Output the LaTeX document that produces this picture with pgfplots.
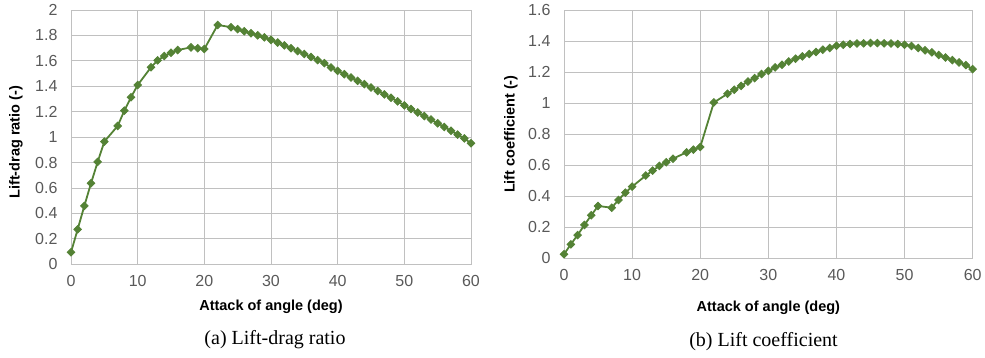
\documentclass[border=0pt]{standalone}
\usepackage{fontspec}
\setmainfont{Liberation Serif}
\setsansfont{Liberation Sans}
\usepackage{pgfplots}
\pgfplotsset{compat=1.18}
\definecolor{gridc}{HTML}{C0C0C0}
\definecolor{tickc}{HTML}{595959}
\definecolor{linec}{HTML}{548235}

\pgfplotstableread{
x y
0 0.094
1 0.275
2 0.459
3 0.637
4 0.805
5 0.965
7 1.088
8 1.208
9 1.313
10 1.410
12 1.549
13 1.604
14 1.638
15 1.664
16 1.685
18 1.706
19 1.699
20 1.693
22 1.882
24 1.865
25 1.849
26 1.833
27 1.817
28 1.801
29 1.785
30 1.765
31 1.744
32 1.722
33 1.700
34 1.677
35 1.654
36 1.630
37 1.606
38 1.582
39 1.548
40 1.521
41 1.495
42 1.469
43 1.443
44 1.417
45 1.390
46 1.363
47 1.336
48 1.309
49 1.281
50 1.250
51 1.222
52 1.194
53 1.166
54 1.138
55 1.109
56 1.080
57 1.050
58 1.020
59 0.990
60 0.952
}\ldtable

\pgfplotstableread{
x y
0 0.026
1 0.090
2 0.150
3 0.215
4 0.277
5 0.337
7 0.326
8 0.376
9 0.423
10 0.462
12 0.533
13 0.565
14 0.595
15 0.619
16 0.642
18 0.683
19 0.700
20 0.717
22 1.004
24 1.060
25 1.086
26 1.111
27 1.139
28 1.161
29 1.187
30 1.208
31 1.230
32 1.247
33 1.268
34 1.286
35 1.301
36 1.316
37 1.329
38 1.344
39 1.355
40 1.370
41 1.376
42 1.381
43 1.384
44 1.385
45 1.387
46 1.387
47 1.385
48 1.384
49 1.381
50 1.376
51 1.368
52 1.355
53 1.340
54 1.327
55 1.310
56 1.294
57 1.277
58 1.262
59 1.245
60 1.219
}\cltable

\begin{document}
\begin{tikzpicture}
\path[use as bounding box] (0,0) rectangle (985pt,358pt);
\pgfplotsset{
 myax/.style={
  scale only axis, anchor=south west,
  xmin=0, xmax=60, xtick={0,10,...,60},
  grid=major, major grid style={draw=gridc, line width=0.9pt},
  axis line style={draw=gridc, line width=0.9pt},
  major tick length=0pt,
  clip=false,
  /pgf/number format/assume math mode=true,
  ticklabel style={font=\sffamily\fontsize{16}{19}\selectfont, text=tickc},
  xticklabel style={yshift=-7pt},
  yticklabel style={xshift=-10pt},
  label style={font=\sffamily\bfseries\fontsize{14.5}{17}\selectfont, text=black},
  xlabel={Attack of angle (deg)},
 },
 myplot/.style={draw=linec, line width=1.8pt, mark=square*, mark size=2.7pt,
   mark options={fill=linec, draw=linec, line width=0.8pt, rotate=45}},
}
\begin{axis}[myax,
  at={(71pt,93.7pt)}, width=400pt, height=254.3pt,
  ymin=0, ymax=2, ytick={0,0.2,...,2.01},
  ylabel={Lift-drag ratio (-)},
  x label style={at={(axis description cs:0.5,-0.18)}, anchor=base},
  y label style={at={(axis description cs:-0.1375,0.48)}, anchor=center},
]
\addplot[myplot] table[x=x,y=y] {\ldtable};
\end{axis}
\begin{axis}[myax,
  at={(564pt,99.7pt)}, width=408.7pt, height=248.3pt,
  ymin=0, ymax=1.6, ytick={0,0.2,...,1.61},
  ylabel={Lift coefficient (-)},
  x label style={at={(axis description cs:0.5,-0.215)}, anchor=base},
  y label style={at={(axis description cs:-0.1297,0.5)}, anchor=center},
]
\addplot[myplot] table[x=x,y=y] {\cltable};
\end{axis}
\node[anchor=base, font=\fontsize{20}{24}\selectfont] at (275pt,13pt) {(a) Lift-drag ratio};
\node[anchor=base, font=\fontsize{20}{24}\selectfont] at (763.5pt,11.3pt) {(b) Lift coefficient};
\end{tikzpicture}
\end{document}
